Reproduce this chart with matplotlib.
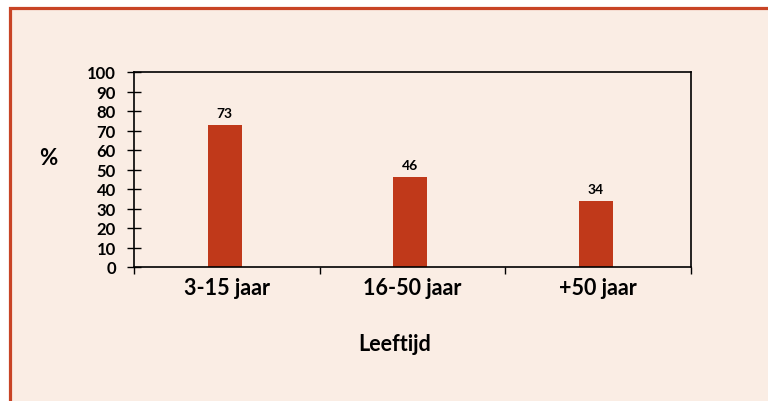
import matplotlib.pyplot as plt
from matplotlib.patches import Rectangle
import numpy as np

plt.rcParams['font.family'] = ['Lato', 'DejaVu Sans']

categories = ['3-15 jaar', '16-50 jaar', '+50 jaar']
values = [73, 46, 34]
yticks = [0, 10, 20, 30, 40, 50, 60, 70, 80, 90, 100]

bg = '#FAEDE4'
bar_color = '#C0391A'
border_color = '#C84425'

W, H = 768, 402
fig = plt.figure(figsize=(W / 100, H / 100), dpi=100)
fig.patch.set_facecolor('white')

# framed panel that runs off the right and bottom edges
fig.patches.append(Rectangle((9.5 / W, -0.05), 1.1, 1 - 8.5 / H + 0.05,
                             transform=fig.transFigure, facecolor=bg,
                             edgecolor=border_color, linewidth=2.3, zorder=-1))

ax = fig.add_axes([134 / W, 1 - 268 / H, (691 - 134) / W, (268 - 73) / H])
ax.set_zorder(2)
ax.set_facecolor(bg)

x = np.arange(len(categories))
ax.bar(x - 0.012, values, width=0.183, color=bar_color, zorder=2)
for xi, v in zip(x, values):
    ax.text(xi - 0.012, v + 3, str(v), ha='center', va='bottom', fontsize=10,
            fontweight='bold')

ax.set_xlim(-0.5, len(categories) - 0.5)
ax.set_ylim(0, 100)
ax.set_yticks(yticks)
ax.set_yticklabels([str(t) for t in yticks], fontsize=12, fontweight='bold')
ax.tick_params(axis='y', direction='inout', length=10, width=1, pad=8)

ax.set_xticks(x)
ax.set_xticklabels(categories, fontsize=15.5, fontweight='bold')
ax.tick_params(axis='x', length=0, pad=7)
ax.set_xticks(np.arange(len(categories) + 1) - 0.5, minor=True)
ax.tick_params(axis='x', which='minor', direction='out', length=5, width=1)

for s in ax.spines.values():
    s.set_color('black')
    s.set_linewidth(1.2)

fig.text(395 / W, 1 - 345 / H, 'Leeftijd', ha='center', va='center',
         fontsize=15.5, fontweight='bold', zorder=3)
fig.text(48 / W, 1 - 159 / H, '%', ha='center', va='center',
         fontsize=16, fontweight='bold', zorder=3)

fig.savefig('out.png', dpi=100, facecolor=fig.get_facecolor())
